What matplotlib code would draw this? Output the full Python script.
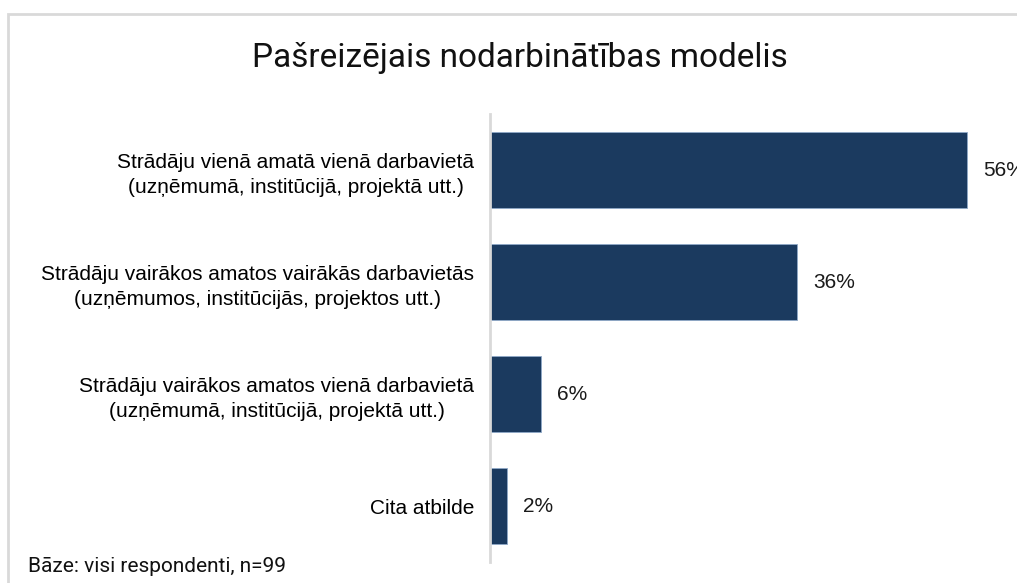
import matplotlib.pyplot as plt
from matplotlib.patches import Rectangle

categories = [
    "Strādāju vienā amatā vienā darbavietā\n(uzņēmumā, institūcijā, projektā utt.)",
    "Strādāju vairākos amatos vairākās darbavietās\n(uzņēmumos, institūcijās, projektos utt.)",
    "Strādāju vairākos amatos vienā darbavietā\n(uzņēmumā, institūcijā, projektā utt.)",
    "Cita atbilde",
]
values = [56, 36, 6, 2]
title = "Pašreizējais nodarbinātības modelis"
note = "Bāze: visi respondenti, n=99"

W, H = 1017, 583
fig = plt.figure(figsize=(W / 100, H / 100), dpi=100)

# light frame (cropped screenshot look)
fig.patches.append(Rectangle((8 / W, -0.1), 1.2, (H - 14) / H + 0.1,
                             transform=fig.transFigure, fill=False,
                             edgecolor="#d9d9d9", linewidth=2))

ax = fig.add_axes([490 / W, (H - 562) / H, 511 / W, 448 / H])
y = list(range(len(values)))
ax.barh(y, values, height=0.67, color="#1b3a5f", edgecolor="#8fa8c8", linewidth=0.6)
ax.set_xlim(0, 60)
ax.set_ylim(3.5, -0.5)
ax.set_yticks(y)
ax.set_yticklabels(categories, fontsize=15, family="Liberation Sans", linespacing=1.4)
ax.tick_params(axis="y", length=0, pad=11.5)
ax.set_xticks([])
for s in ["top", "right", "bottom"]:
    ax.spines[s].set_visible(False)
ax.spines["left"].set_color("#d9d9d9")
ax.spines["left"].set_linewidth(2)
for label in ax.get_yticklabels():
    label.set_horizontalalignment("right")
    label.set_multialignment("center")

for i, v in enumerate(values):
    ax.text(v + 1.9, i, f"{v}%", va="center", ha="left", fontsize=15,
            family="Liberation Sans", color="#1a1a1a")

fig.text(520 / W, 1 - 58 / H, title, ha="center", va="center", fontsize=24,
         family="Roboto", color="#111111")
fig.text(28 / W, 1 - 567 / H, note, ha="left", va="center", fontsize=15,
         family="Roboto", color="#111111")

fig.savefig("out.png", dpi=100)
